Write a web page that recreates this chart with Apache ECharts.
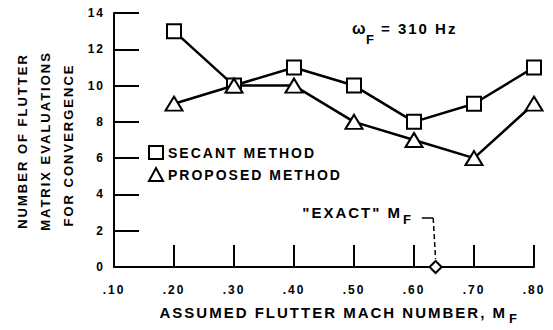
<!DOCTYPE html>
<html>
<head>
<meta charset="utf-8">
<script src="https://cdn.jsdelivr.net/npm/echarts@6/dist/echarts.min.js"></script>
<style>
html,body{margin:0;padding:0;background:#fff;}
#chart{width:553px;height:330px;letter-spacing:2px;}
#chart svg text{letter-spacing:2px;}
</style>
</head>
<body>
<div id="chart"></div>
<script>
// ---- data ----
const machNumbers = [0.20, 0.30, 0.40, 0.50, 0.60, 0.70, 0.80];
const secantEvals = [13, 10, 11, 10, 8, 9, 11];
const proposedEvals = [9, 10, 10, 8, 7, 6, 9];
const exactMach = [[0.636, 0]];
const exactLeaderH = [[0.613, 2.7], [0.632, 2.7]];
const exactLeaderV = [[0.632, 2.7], [0.636, 0.45]];
const seriesNames = ['SECANT METHOD', 'PROPOSED METHOD'];
const xTickLabels = ['.10', '.20', '.30', '.40', '.50', '.60', '.70', '.80'];

const FONT = '"Liberation Sans", Arial, sans-serif';
const chart = echarts.init(document.getElementById('chart'), null, {renderer: 'svg'});

function pairs(xs, ys) { return xs.map((x, i) => [x, ys[i]]); }

const option = {
  animation: false,
  backgroundColor: '#fff',
  grid: {left: 114, right: 19, top: 13, bottom: 63},
  xAxis: {
    type: 'value', min: 0.1, max: 0.8, interval: 0.1,
    axisLine: {show: true, lineStyle: {color: '#000', width: 2}},
    axisTick: {show: true, inside: true, length: 22, lineStyle: {color: '#000', width: 2}},
    splitLine: {show: false},
    axisLabel: {
      color: '#000', fontFamily: FONT, fontWeight: 'bold', fontSize: 12, margin: 17,
      formatter: v => xTickLabels[Math.round((v - 0.1) * 10)]
    }
  },
  yAxis: {
    type: 'value', min: 0, max: 14, interval: 2,
    axisLine: {show: true, lineStyle: {color: '#000', width: 2}},
    axisTick: {show: true, inside: true, length: 25, lineStyle: {color: '#000', width: 2}},
    splitLine: {show: false},
    axisLabel: {color: '#000', fontFamily: FONT, fontWeight: 'bold', fontSize: 12, margin: 9}
  },
  legend: {
    left: 143, top: 140, orient: 'vertical', itemWidth: 14, itemHeight: 13, itemGap: 7,
    textStyle: {color: '#000', fontFamily: FONT, fontWeight: 'bold', fontSize: 14},
    data: [{name: seriesNames[0], icon: 'rect'}, {name: seriesNames[1], icon: 'triangle'}]
  },
  series: [
    {
      name: seriesNames[0], type: 'line', data: pairs(machNumbers, secantEvals),
      symbol: 'rect', symbolSize: 14,
      lineStyle: {color: '#000', width: 2.5},
      itemStyle: {color: '#fff', borderColor: '#000', borderWidth: 2}, z: 3
    },
    {
      name: seriesNames[1], type: 'line', data: pairs(machNumbers, proposedEvals),
      symbol: 'triangle', symbolSize: [17, 14],
      lineStyle: {color: '#000', width: 2.5},
      itemStyle: {color: '#fff', borderColor: '#000', borderWidth: 2}, z: 3
    },
    {
      name: 'leaderH', type: 'line', data: exactLeaderH, symbol: 'none',
      lineStyle: {color: '#000', width: 1.5}, silent: true
    },
    {
      name: 'leaderV', type: 'line', data: exactLeaderV, symbol: 'none',
      lineStyle: {color: '#000', width: 1.5, type: [5, 3]}, silent: true
    },
    {
      name: 'exact', type: 'scatter', data: exactMach, symbol: 'diamond', symbolSize: [12, 12],
      itemStyle: {color: '#fff', borderColor: '#000', borderWidth: 2, opacity: 1}, z: 5
    }
  ],
  graphic: [
    {type: 'text', x: 22, y: 141, rotation: Math.PI / 2,
     style: {text: 'NUMBER OF FLUTTER', font: 'bold 13px ' + FONT, fill: '#000', align: 'center', verticalAlign: 'middle'}},
    {type: 'text', x: 45, y: 141, rotation: Math.PI / 2,
     style: {text: 'MATRIX EVALUATIONS', font: 'bold 13px ' + FONT, fill: '#000', align: 'center', verticalAlign: 'middle'}},
    {type: 'text', x: 68, y: 145, rotation: Math.PI / 2,
     style: {text: 'FOR CONVERGENCE', font: 'bold 13px ' + FONT, fill: '#000', align: 'center', verticalAlign: 'middle'}},
    {type: 'text', x: 507, y: 312,
     style: {text: 'ASSUMED FLUTTER MACH NUMBER, M', font: 'bold 15px ' + FONT, fill: '#000', align: 'right', verticalAlign: 'middle'}},
    {type: 'text', x: 509, y: 318,
     style: {text: 'F', font: 'bold 13px ' + FONT, fill: '#000', align: 'left', verticalAlign: 'middle'}},
    {type: 'text', x: 352, y: 28,
     style: {text: 'ω', font: 'bold 16px ' + FONT, fill: '#000', align: 'left', verticalAlign: 'middle'}},
    {type: 'text', x: 366, y: 39,
     style: {text: 'F', font: 'bold 13px ' + FONT, fill: '#000', align: 'left', verticalAlign: 'middle'}},
    {type: 'text', x: 381, y: 28,
     style: {text: '= 310 Hz', font: 'bold 15px ' + FONT, fill: '#000', align: 'left', verticalAlign: 'middle'}},
    {type: 'text', x: 402, y: 212,
     style: {text: '"EXACT" M', font: 'bold 15px ' + FONT, fill: '#000', align: 'right', verticalAlign: 'middle'}},
    {type: 'text', x: 403, y: 219,
     style: {text: 'F', font: 'bold 13px ' + FONT, fill: '#000', align: 'left', verticalAlign: 'middle'}}
  ]
};
chart.setOption(option);
</script>
</body>
</html>
